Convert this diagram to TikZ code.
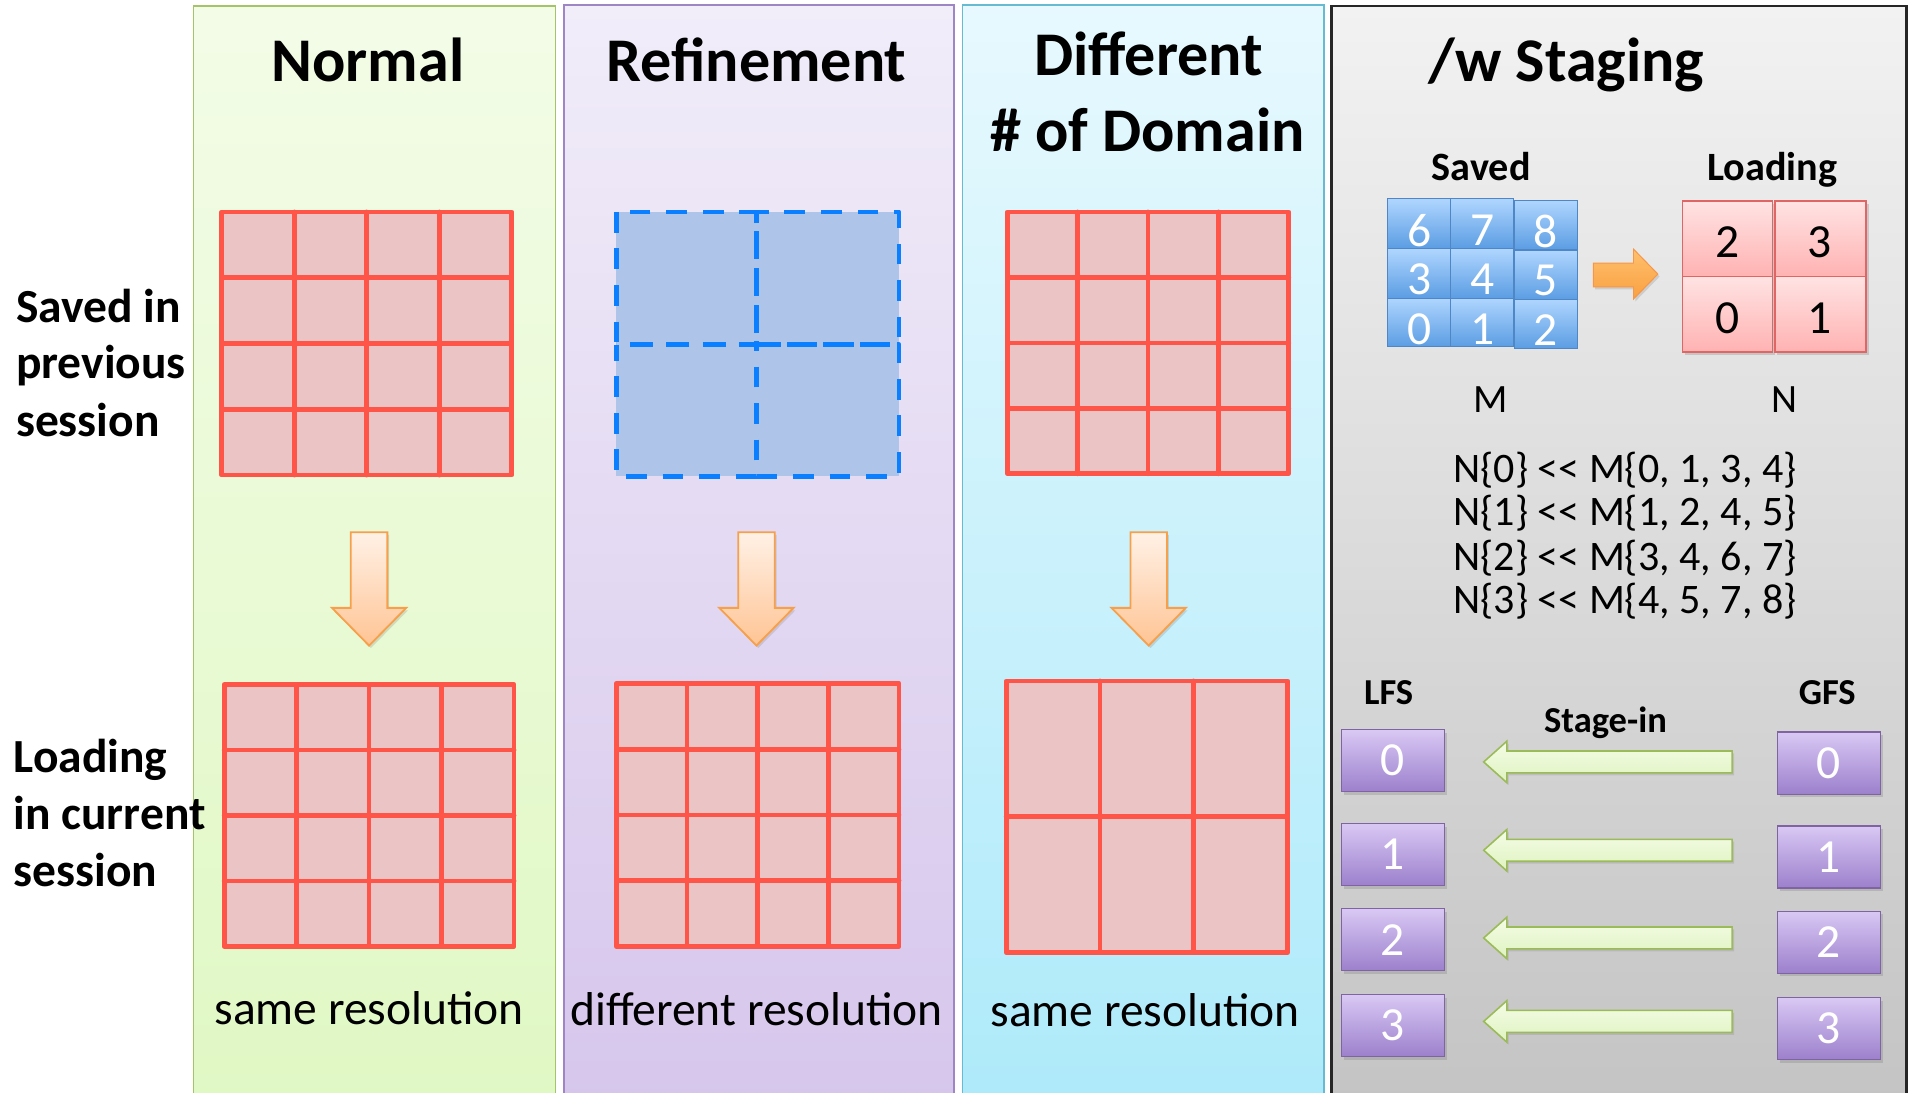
\documentclass[tikz,border=0pt]{standalone}
\usepackage{fontspec}
\setmainfont{Carlito}
\usetikzlibrary{shadows}

\definecolor{gridred}{HTML}{FF5549}
\definecolor{cellpink}{HTML}{EBC5C5}
\definecolor{dashblue}{HTML}{0A7FFF}
\definecolor{dashfill}{HTML}{AEC5E9}
\definecolor{normaledge}{HTML}{A5C46A}
\definecolor{normaltop}{HTML}{F3FCE7}
\definecolor{normalbot}{HTML}{E0F8C4}
\definecolor{refedge}{HTML}{9E86C4}
\definecolor{reftop}{HTML}{F1EDF9}
\definecolor{refbot}{HTML}{D6C6EC}
\definecolor{diffedge}{HTML}{66BAD2}
\definecolor{difftop}{HTML}{E7F9FE}
\definecolor{diffbot}{HTML}{AEEAFA}
\definecolor{stagetop}{HTML}{F2F2F2}
\definecolor{stagebot}{HTML}{C4C4C4}
\definecolor{stageedge}{HTML}{262626}
\definecolor{downtop}{HTML}{FFF1E6}
\definecolor{downbot}{HTML}{FFC494}
\definecolor{downedge}{HTML}{F7A04C}
\definecolor{mtop}{HTML}{B0D6FF}
\definecolor{mbot}{HTML}{5B9DE3}
\definecolor{medge}{HTML}{4F86C6}
\definecolor{ntop}{HTML}{FFE3E3}
\definecolor{nbot}{HTML}{FFB2B2}
\definecolor{nedge}{HTML}{E06666}
\definecolor{ptop}{HTML}{D9C8F4}
\definecolor{pbot}{HTML}{9C80CC}
\definecolor{pedge}{HTML}{8064A2}
\definecolor{gtop}{HTML}{F4FCE6}
\definecolor{gbot}{HTML}{DFF3C0}
\definecolor{gedge}{HTML}{9BBB59}
\definecolor{otop}{HTML}{FFC06E}
\definecolor{obot}{HTML}{F9A040}
\definecolor{oedge}{HTML}{F79646}

% filled grid of ncols x nrows cells
\newcommand\cellgrid[6]{%
  \fill[cellpink] (#1,#2) rectangle (#3,#4);
  \pgfmathtruncatemacro\gridcols{#5-1}%
  \pgfmathtruncatemacro\gridrows{#6-1}%
  \foreach \k in {1,...,\gridcols}
    \draw[gridline] ({#1+\k*(#3-#1)/#5},#2) -- ({#1+\k*(#3-#1)/#5},#4);
  \foreach \k in {1,...,\gridrows}
    \draw[gridline] (#1,{#2+\k*(#4-#2)/#6}) -- (#3,{#2+\k*(#4-#2)/#6});
  \draw[gridline] (#1,#2) rectangle (#3,#4);
}

% orange block arrow pointing down, centred on x
\newcommand\orangedown[1]{%
  \draw[downarrow] (#1-15,437) -- (#1+15,437) -- (#1+15,499) -- (#1+30.5,499)
    -- (#1,530) -- (#1-30.5,499) -- (#1-15,499) -- cycle;
}

% green block arrow pointing left, centred on y
\newcommand\greenleft[1]{%
  \draw[stagearrow] (1218,#1) -- (1237,#1-17) -- (1237,#1-9) -- (1422,#1-9)
    -- (1422,#1+9) -- (1237,#1+9) -- (1237,#1+17) -- cycle;
}

\begin{document}
\begin{tikzpicture}[x=1pt,y=-1pt,
  panel/.style={line width=1.3pt},
  gridline/.style={draw=gridred, line width=3.9pt, line join=round, line cap=round},
  dashcell/.style={draw=dashblue, line width=3.9pt, dash pattern=on 17pt off 13pt, line join=round},
  downarrow/.style={draw=downedge, line width=1.5pt, top color=downtop, bottom color=downbot,
    drop shadow={opacity=0.25, shadow xshift=1.5pt, shadow yshift=-2pt}},
  stagearrow/.style={draw=gedge, line width=1.3pt, top color=gtop, bottom color=gbot,
    drop shadow={opacity=0.25, shadow xshift=1.5pt, shadow yshift=-2pt}},
  title/.style={font=\fontsize{51}{60}\selectfont\bfseries, anchor=base, inner sep=0pt},
  side/.style={font=\fontsize{39}{47}\selectfont\bfseries, anchor=base west, inner sep=0pt},
  caption/.style={font=\fontsize{39}{47}\selectfont, anchor=base, inner sep=0pt},
  sub/.style={font=\fontsize{33}{40}\selectfont\bfseries, anchor=base, inner sep=0pt},
  tag/.style={font=\fontsize{30}{36}\selectfont\bfseries, anchor=base, inner sep=0pt},
  letter/.style={font=\fontsize{33}{40}\selectfont, anchor=base, inner sep=0pt},
  mapline/.style={font=\fontsize{34.5}{40}\selectfont, anchor=base, inner sep=0pt},
  digit/.style={font=\fontsize{39}{44}\selectfont, inner sep=0pt},
  mcell/.style={draw=medge, line width=0.6pt, top color=mtop, bottom color=mbot},
  ncell/.style={draw=nedge, line width=1.2pt, top color=ntop, bottom color=nbot,
    drop shadow={opacity=0.3, shadow xshift=2pt, shadow yshift=-2.5pt}},
  pbox/.style={draw=pedge, line width=1pt, top color=ptop, bottom color=pbot,
    minimum width=85pt, minimum height=51pt, inner sep=0pt, text=white,
    font=\fontsize{39}{44}\selectfont,
    drop shadow={opacity=0.3, shadow xshift=2pt, shadow yshift=-2.5pt}}
]
\useasboundingbox (0,0) rectangle (1568,897);
\fill[white] (0,0) rectangle (1568,897);

% ---- panels ----
\draw[panel, draw=normaledge, top color=normaltop, bottom color=normalbot] (159,5) rectangle (456,905);
\draw[panel, draw=refedge, top color=reftop, bottom color=refbot] (463,4) rectangle (783,905);
\draw[panel, draw=diffedge, top color=difftop, bottom color=diffbot] (790,4) rectangle (1087,905);
\draw[line width=2pt, draw=stageedge, top color=stagetop, bottom color=stagebot] (1093,5) rectangle (1565,905);

% ---- titles ----
\node[title] (tnormal) at (302,67) {Normal};
\node[title] (tref) at (621,67) {Refinement};
\node[title] (tdiff1) at (943,62) {Different};
\node[title] (tdiff2) at (942,124) {\# of Domain};
\node[title] (tstage) at (1286,67) {/w Staging};

% ---- row labels ----
\node[side] (sv1) at (13,265) {Saved in};
\node[side] (sv2) at (13,311) {previous};
\node[side] (sv3) at (13,358) {session};
\node[side] (ld1) at (11,634) {Loading};
\node[side] (ld2) at (11,681) {in current};
\node[side] (ld3) at (11,728) {session};

% ---- Normal ----
\cellgrid{182}{174}{420}{390}{4}{4}
\orangedown{303}
\cellgrid{184}{562}{422}{777}{4}{4}
\node[caption] (cnormal) at (303,841) {same resolution};

% ---- Refinement ----
\fill[dashfill] (506,174) rectangle (738,391);
\draw[dashcell] (506,174) rectangle (621,283);
\draw[dashcell, dash phase=8pt] (621,174) rectangle (738,283);
\draw[dashcell, dash phase=4pt] (506,283) rectangle (621,391);
\draw[dashcell, dash phase=12pt] (621,283) rectangle (738,391);
\orangedown{621}
\cellgrid{506}{561}{738}{777}{4}{4}
\node[caption] (cref) at (621,842) {different resolution};

% ---- Different # of Domain ----
\cellgrid{827}{174}{1058}{389}{4}{4}
\orangedown{943}
\cellgrid{826}{559}{1057}{782}{3}{2}
\node[caption] (cdiff) at (940,843) {same resolution};

% ---- Staging: saved M layout ----
\node[sub] (saved) at (1216,148) {Saved};
\node[sub] (loading) at (1455,148) {Loading};
\foreach \c/\x/\dy in {0/1139/0,1/1191/0,2/1243/1.2}
  \foreach \r/\y in {0/244,1/204,2/163}
    \draw[mcell] (\x,\y+\dy) rectangle (\x+51.7,\y+40.7+\dy);
\foreach \n/\x/\y in {6/1165/189, 7/1217/189, 8/1269/190,
                      3/1165/229, 4/1217/229, 5/1269/230,
                      0/1165/270, 1/1217/270, 2/1269/271}
  \node[digit, text=white] (m\n) at (\x,\y) {\n};

% orange arrow from M to N
\draw[draw=oedge, line width=0.8pt, top color=otop, bottom color=obot,
  drop shadow={opacity=0.25, shadow xshift=1.5pt, shadow yshift=-2pt}]
  (1308,216) -- (1341,216) -- (1341,204.5) -- (1361,225) -- (1341,245.5)
  -- (1341,235.5) -- (1308,235.5) -- cycle;

% ---- Staging: loading N layout ----
\draw[ncell] (1381,165) rectangle (1455,227);
\draw[ncell] (1457,165) rectangle (1532,227);
\draw[ncell] (1381,227) rectangle (1455,289);
\draw[ncell] (1457,227) rectangle (1532,289);
\node[digit] (n2) at (1418,199) {2};
\node[digit] (n3) at (1494,199) {3};
\node[digit] (n0) at (1418,261) {0};
\node[digit] (n1) at (1494,261) {1};

\node[letter] (lm) at (1224,339) {M};
\node[letter] (ln) at (1465,339) {N};

\node[mapline] (map0) at (1334,396) {N\{0\} <\kern0pt< M\{0, 1, 3, 4\}};
\node[mapline] (map1) at (1334,431) {N\{1\} <\kern0pt< M\{1, 2, 4, 5\}};
\node[mapline] (map2) at (1334,468) {N\{2\} <\kern0pt< M\{3, 4, 6, 7\}};
\node[mapline] (map3) at (1334,504) {N\{3\} <\kern0pt< M\{4, 5, 7, 8\}};

% ---- Staging: stage-in from GFS to LFS ----
\node[tag] (lfs) at (1140,578) {LFS};
\node[tag] (gfs) at (1500,578) {GFS};
\node[tag] (stagein) at (1318,601) {Stage-in};

\node[pbox] (lfs0) at (1143.5,624.5) {0};
\node[pbox] (lfs1) at (1143.5,701.5) {1};
\node[pbox] (lfs2) at (1143.5,771.5) {2};
\node[pbox] (lfs3) at (1143.5,842) {3};
\node[pbox] (gfs0) at (1501.5,626.5) {0};
\node[pbox] (gfs1) at (1501.5,703.5) {1};
\node[pbox] (gfs2) at (1501.5,773.5) {2};
\node[pbox] (gfs3) at (1501.5,844.5) {3};

\greenleft{625.5}
\greenleft{698}
\greenleft{770}
\greenleft{838.5}
\end{tikzpicture}
\end{document}
